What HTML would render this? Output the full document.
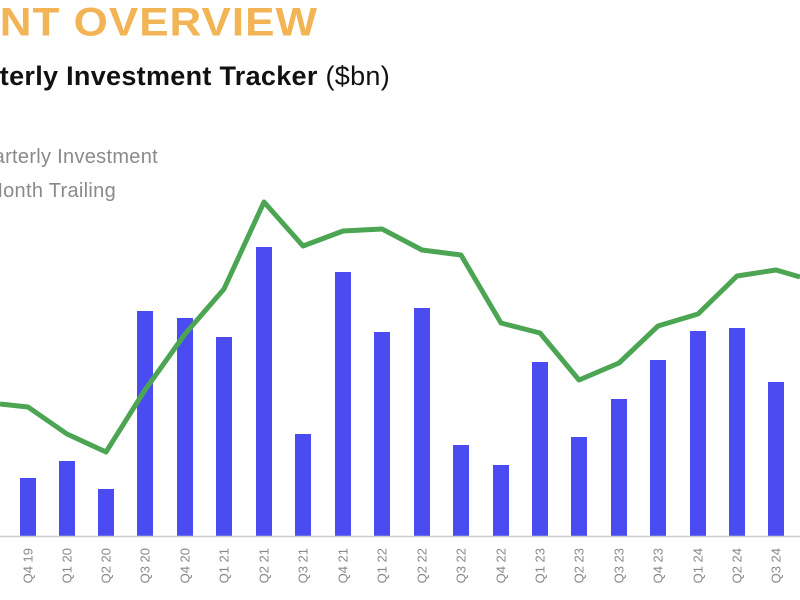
<!DOCTYPE html>
<html><head><style>
body{margin:0;width:800px;height:600px;overflow:hidden;background:#fff;position:relative;font-family:"Liberation Sans",sans-serif}
#wrap{position:absolute;left:0;top:0;width:800px;height:600px;overflow:hidden}
.r{position:absolute;white-space:nowrap;text-align:right}
</style></head><body>
<div id="wrap">
<div class="r" style="right:482px;top:-2px;font-size:44px;font-weight:bold;color:#F2B455;letter-spacing:1px;transform:scaleY(0.9)">INVESTMENT OVERVIEW</div>
<div class="r" style="right:410px;top:61px;font-size:27px;color:#111;letter-spacing:0.3px"><b>Quarterly Investment Tracker</b> ($bn)</div>
<div class="r" style="right:642px;top:146px;font-size:20px;color:#8a8a8a;letter-spacing:0.3px">Quarterly Investment</div>
<div class="r" style="right:684px;top:180px;font-size:20px;color:#8a8a8a;letter-spacing:0.3px">12 Month Trailing</div>
<svg width="800" height="600" style="position:absolute;left:0;top:0">
<g fill="#4A4CF2" id="bars"></g>
<line x1="0" y1="536.5" x2="800" y2="536.5" stroke="#ccc" stroke-width="1.5"/>
<polyline fill="none" stroke="#4CA552" stroke-width="5" stroke-linejoin="round" points="0,404 28,407 67,434 106,452 145,390 185,334 224,289 264,202 303,246 343,231 382,229 422,250 461,255 501,323 540,333 579,380 619,363 658,326 698,314 737,276 776,270 800,277"/>
<g id="lbl" font-family="Liberation Sans" font-size="13" fill="#888"></g>
</svg>
</div>
<script>
var xs=[28,67,106,145,185,224,264,303,343,382,422,461,501,540,579,619,658,698,737,776];
var tops=[478,461,489,311,318,337,247,434,272,332,308,445,465,362,437,399,360,331,328,382];
var labs=["Q4 19","Q1 20","Q2 20","Q3 20","Q4 20","Q1 21","Q2 21","Q3 21","Q4 21","Q1 22","Q2 22","Q3 22","Q4 22","Q1 23","Q2 23","Q3 23","Q4 23","Q1 24","Q2 24","Q3 24"];
var ns="http://www.w3.org/2000/svg",b=document.getElementById("bars"),l=document.getElementById("lbl");
xs.forEach(function(x,i){var r=document.createElementNS(ns,"rect");r.setAttribute("x",x-8);r.setAttribute("y",tops[i]);r.setAttribute("width",16);r.setAttribute("height",536-tops[i]);b.appendChild(r);
var t=document.createElementNS(ns,"text");t.setAttribute("transform","translate("+(x+4.5)+",548) rotate(-90)");t.setAttribute("text-anchor","end");t.textContent=labs[i];l.appendChild(t);});
</script>
</body></html>
